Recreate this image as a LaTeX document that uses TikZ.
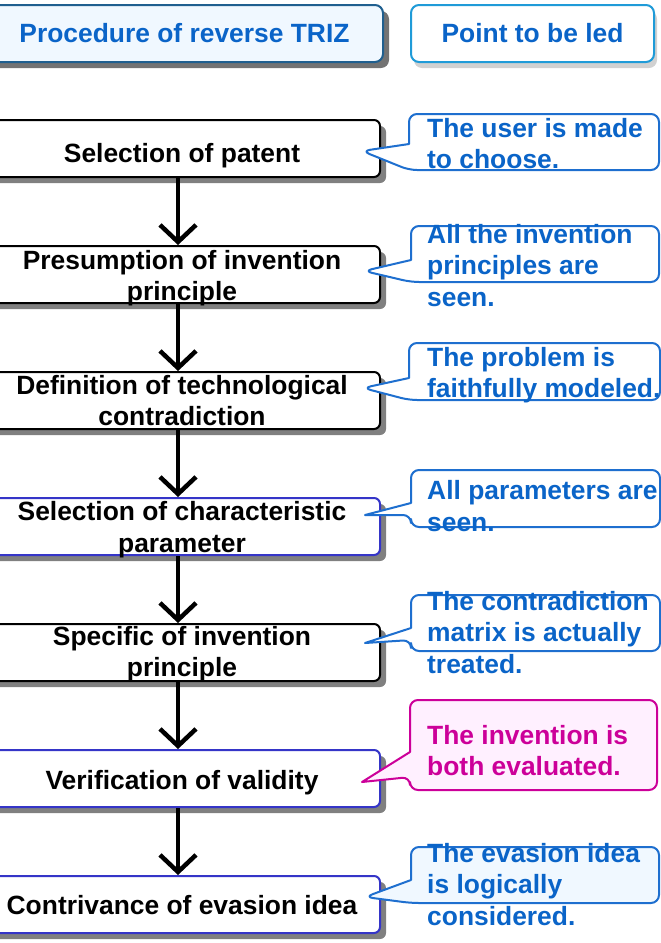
\documentclass[tikz,border=0pt]{standalone}
\usepackage{fontspec}
\setmainfont{Liberation Sans}
\usetikzlibrary{arrows.meta}
\usetikzlibrary{shadows}
\usepackage{xcolor}

\definecolor{leadblue}{HTML}{0A64C8}
\definecolor{notebord}{HTML}{1E6FCF}
\definecolor{headbord}{HTML}{1F5F8F}
\definecolor{headbordlight}{HTML}{1F9BD8}
\definecolor{stepblue}{HTML}{3535C8}
\definecolor{leadmagenta}{HTML}{CC0099}
\definecolor{pinkfill}{HTML}{FFF0FF}
\definecolor{icefill}{HTML}{F0F8FF}

\tikzset{
	bigfont/.style={font=\fontsize{26.4}{31.5}\selectfont\bfseries},
	headleft/.style={draw=headbord, line width=2pt, fill=icefill, rounded corners=8pt, minimum width=397pt, minimum height=57pt, inner sep=0pt, bigfont, text=leadblue, drop shadow={shadow xshift=6pt, shadow yshift=-6pt, fill=black!55, opacity=1}},
	headright/.style={draw=headbordlight, line width=2pt, fill=white, rounded corners=8pt, minimum width=243pt, minimum height=57pt, inner sep=0pt, bigfont, text=leadblue, drop shadow={shadow xshift=3pt, shadow yshift=-6pt, fill=black!18, opacity=1}},
	stepbox/.style={draw, line width=2pt, rounded corners=6pt, fill=white, minimum width=404pt, minimum height=57pt, inner sep=0pt, drop shadow={shadow xshift=6pt, shadow yshift=-6pt, fill=black!50, opacity=1}},
	steptext/.style={anchor=base, align=center, inner sep=0pt, bigfont},
	notetext/.style={anchor=base west, align=left, inner sep=0pt, bigfont, text=leadblue},
	note/.style={draw=notebord, line width=2pt, fill=white, line join=round},
	flow/.style={line width=4.5pt, -{Straight Barb[length=17pt,width=36pt]}},
}

\begin{document}
\begin{tikzpicture}[x=1pt,y=-1pt]
		\useasboundingbox (0,0) rectangle (661,943) ;
		\clip (0,0) rectangle (661,943) ;
\par
\node[headleft] (h1) at (184.5,33.5) {Procedure of reverse TRIZ} ;
		\node[headright] (h2) at (532.5,33.5) {Point to be led} ;
\par
\node[stepbox] (s1) at (178,148.5) {} ;
		\node[stepbox] (s2) at (178,274.5) {} ;
		\node[stepbox] (s3) at (178,400.5) {} ;
		\node[stepbox, draw=stepblue] (s4) at (178,526.5) {} ;
		\node[stepbox] (s5) at (178,652.5) {} ;
		\node[stepbox, draw=stepblue] (s6) at (178,778.5) {} ;
		\node[stepbox, draw=stepblue] (s7) at (178,904.5) {} ;
\par
% base of a two-line node is its last line
		\node[steptext] (t1) at ([xshift=4pt,yshift=-43pt]s1.north) {Selection of patent} ;
		\node[steptext] (t2) at ([xshift=4pt,yshift=-55.5pt]s2.north) {Presumption of invention\\principle} ;
		\node[steptext] (t3) at ([xshift=4pt,yshift=-54.5pt]s3.north) {Definition of technological\\contradiction} ;
		\node[steptext] (t4) at ([xshift=4pt,yshift=-55pt]s4.north) {Selection of characteristic\\parameter} ;
		\node[steptext] (t5) at ([xshift=4pt,yshift=-53.5pt]s5.north) {Specific of invention\\principle} ;
		\node[steptext] (t6) at ([xshift=4pt,yshift=-40pt]s6.north) {Verification of validity} ;
		\node[steptext] (t7) at ([xshift=4pt,yshift=-39pt]s7.north) {Contrivance of evasion idea} ;
\par
\draw[flow] (s1.south) -- (s2.north) ;
		\draw[flow] (s2.south) -- (s3.north) ;
		\draw[flow] (s3.south) -- (s4.north) ;
		\draw[flow] (s4.south) -- (s5.north) ;
		\draw[flow] (s5.south) -- (s6.north) ;
		\draw[flow] (s6.south) -- (s7.north) ;
\par
% callouts
		\draw[note] (409,144) [rounded corners=8pt] -- (409,114) -- (659,114) -- (659,170) -- (409,170) -- (362,151) [sharp corners] -- cycle ;
		\draw[note] (411,260) [rounded corners=8pt] -- (411,226) -- (659,226) -- (659,282) -- (411,282) -- (364,271) [sharp corners] -- cycle ;
		\draw[note] (409,378) [rounded corners=8pt] -- (409,343) -- (660,343) -- (660,400) -- (409,400) -- (363,388) [sharp corners] -- cycle ;
		\draw[note] (411,503) [rounded corners=8pt] -- (411,470) -- (660,470) -- (660,527) -- (411,527) -- (411,515) [sharp corners] -- (365,515) -- cycle ;
		\draw[note] (411,628) [rounded corners=8pt] -- (411,595) -- (660,595) -- (660,651) -- (411,651) -- (411,640) [sharp corners] -- (365,643) -- cycle ;
		\draw[note, draw=leadmagenta, fill=pinkfill] (410,752) [rounded corners=8pt] -- (410,700) -- (657,700) -- (657,790) -- (410,790) -- (410,777) [sharp corners] -- (362,782) -- cycle ;
		\draw[note, fill=icefill] (411,880) [rounded corners=8pt] -- (411,847) -- (659,847) -- (659,903) -- (411,903) -- (365,897) [sharp corners] -- cycle ;
\par
\node[notetext] (n1) at (427,168.5) {The user is made\\to choose.} ;
		\node[notetext] (n2) at (427,306) {All the invention\\principles are\\seen.} ;
		\node[notetext] (n3) at (427,397.5) {The problem is\\faithfully modeled.} ;
		\node[notetext] (n4) at (427,531) {All parameters are\\seen.} ;
		\node[notetext] (n5) at (427,673) {The contradiction\\matrix is actually\\treated.} ;
		\node[notetext, text=leadmagenta] (n6) at (427,775.5) {The invention is\\both evaluated.} ;
		\node[notetext] (n7) at (427,925) {The evasion idea\\is logically\\considered.} ;
	\end{tikzpicture}
\end{document}
